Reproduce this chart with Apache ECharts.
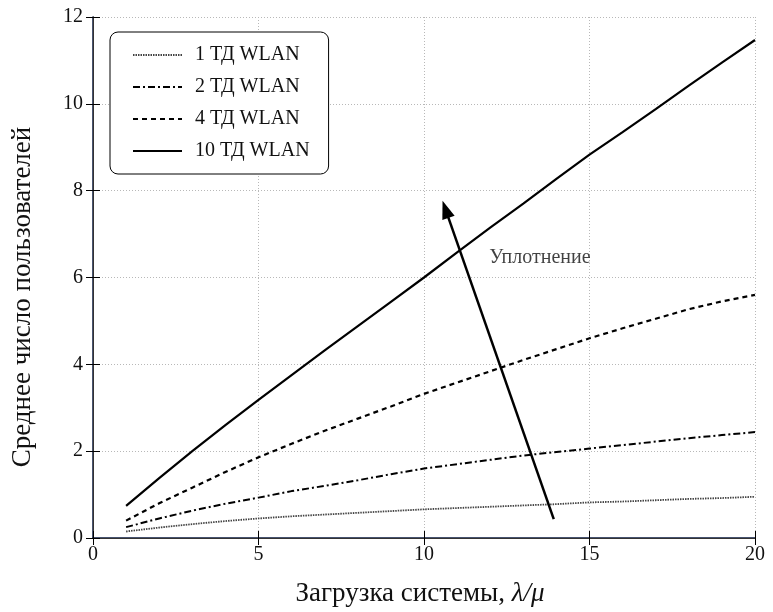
<!DOCTYPE html>
<html><head><meta charset="utf-8">
<script src="https://cdn.jsdelivr.net/npm/echarts@6/dist/echarts.min.js"></script>
<style>html,body{margin:0;padding:0;background:#fff}#c{width:773px;height:612px}</style>
</head><body><div id="c"></div>
<script>
const xs = [1,2,3,4,5,6,7,8,9,10,11,12,13,14,15,16,17,18,19,20];
const ap1 = [0.15,0.24,0.32,0.39,0.45,0.50,0.54,0.58,0.62,0.66,0.69,0.72,0.75,0.78,0.82,0.84,0.87,0.90,0.92,0.95];
const ap2 = [0.25,0.45,0.63,0.79,0.93,1.08,1.20,1.33,1.47,1.60,1.70,1.80,1.90,1.98,2.06,2.14,2.22,2.30,2.37,2.44];
const ap4 = [0.40,0.80,1.16,1.52,1.86,2.17,2.47,2.75,3.03,3.32,3.58,3.84,4.10,4.35,4.60,4.83,5.05,5.27,5.45,5.60];
const ap10 = [0.74,1.38,2.00,2.60,3.18,3.75,4.32,4.88,5.44,6.00,6.58,7.15,7.70,8.27,8.83,9.35,9.88,10.42,10.95,11.47];
const names = ['1 ТД WLAN','2 ТД WLAN','4 ТД WLAN','10 ТД WLAN'];
const arrowFrom = [13.92, 0.435];
const arrowTo = [10.65, 7.57];
const noteText = 'Уплотнение';
const notePos = [13.5, 6.45];
const yName = 'Среднее число пользователей';

const font = 'Liberation Serif, Times New Roman, serif';
const pair = a => xs.map((x,i)=>[x,a[i]]);
const mk = (name, data, color, type, width) => ({
  name, type:'line', data: pair(data), showSymbol:false, symbol:'none', smooth:false,
  lineStyle:{color, type, width}, itemStyle:{color}, z:3
});
const chart = echarts.init(document.getElementById('c'), null, {renderer:'canvas'});
const gridLine = {show:true, lineStyle:{color:'#b8b8b8', type:[1,2], width:1}};
chart.setOption({
  backgroundColor:'#fff',
  animation:false,
  grid:{left:93, top:17, right:18, bottom:71},
  graphic:[{
    type:'text', x:23, y:297, rotation:Math.PI/2, silent:true,
    style:{text:yName, fontFamily:font, fontSize:27, fill:'#111', align:'center', verticalAlign:'middle'}
  }],
  legend:{
    orient:'vertical', left:110, top:32, padding:[13,19,13,22],
    itemWidth:49, itemHeight:14, itemGap:12,
    borderColor:'#000', borderWidth:1, borderRadius:8, backgroundColor:'#fff',
    itemStyle:{opacity:0},
    textStyle:{fontFamily:font, fontSize:20, color:'#111', padding:[0,0,0,8]},
    data:names
  },
  xAxis:[{
    type:'value', min:0, max:20, interval:5,
    name:'Загрузка системы, {i|λ/μ}', nameLocation:'middle', nameGap:42,
    nameTextStyle:{fontFamily:font, fontSize:27, color:'#111', padding:[0,8,0,0],
      rich:{i:{fontFamily:font, fontStyle:'italic', fontSize:27, color:'#111'}}},
    axisLine:{show:true, lineStyle:{color:'#0a1a40', width:1.5}},
    axisTick:{show:true, inside:true, length:7, lineStyle:{color:'#000'}},
    axisLabel:{fontFamily:font, fontSize:20, color:'#111', margin:7},
    splitLine:gridLine
  },{
    type:'value', min:0, max:20, interval:5, position:'top',
    axisLine:{show:true, lineStyle:{color:'#333', width:1}},
    axisTick:{show:true, inside:true, length:7, lineStyle:{color:'#000'}},
    axisLabel:{show:false}, splitLine:{show:false}
  }],
  yAxis:[{
    type:'value', min:0, max:12, interval:2,
    axisLine:{show:true, lineStyle:{color:'#0a1a40', width:1.5}},
    axisTick:{show:true, inside:true, length:7, lineStyle:{color:'#000'}},
    axisLabel:{fontFamily:font, fontSize:20, color:'#111', margin:10},
    splitLine:gridLine
  },{
    type:'value', min:0, max:12, interval:2, position:'right',
    axisLine:{show:true, lineStyle:{color:'#333', width:1}},
    axisTick:{show:true, inside:true, length:7, lineStyle:{color:'#000'}},
    axisLabel:{show:false}, splitLine:{show:false}
  }],
  series:[
    mk(names[0], ap1, '#444', [1.5,1], 1.8),
    mk(names[1], ap2, '#000', [7,3,2,3], 2),
    mk(names[2], ap4, '#000', [5,4], 2.2),
    mk(names[3], ap10, '#000', 'solid', 2.2),
    {
      type:'scatter', data:[notePos], symbolSize:0, silent:true, z:5,
      label:{show:true, position:'inside', formatter:noteText, fontFamily:font, fontSize:20, color:'#111'},
      markLine:{
        silent:true, symbol:['none','triangle'], symbolSize:[13,18], symbolOffset:[0,0],
        lineStyle:{color:'#000', type:'solid', width:2.5},
        label:{show:false},
        data:[[{coord:arrowFrom},{coord:arrowTo}]]
      }
    }
  ]
});
</script></body></html>
